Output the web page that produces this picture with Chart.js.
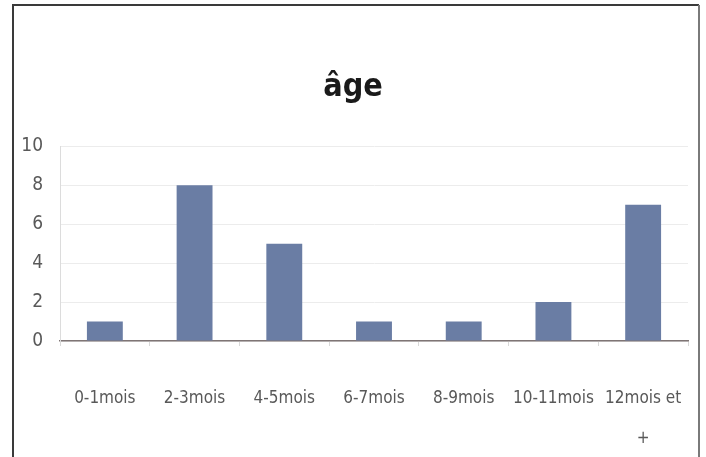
<!DOCTYPE html>
<html>
<head>
<meta charset="utf-8">
<script src="https://cdn.jsdelivr.net/npm/chart.js@4"></script>
<style>
  html, body { margin: 0; padding: 0; background: #fff; }
  #wrap { position: relative; width: 706px; height: 457px; }
</style>
</head>
<body>
<div id="wrap"><canvas id="myChart" width="706" height="457"></canvas></div>
<script>
var categories = ['0-1mois', '2-3mois', '4-5mois', '6-7mois', '8-9mois', '10-11mois', ['12mois et', '+']];
var counts = [1, 8, 5, 1, 1, 2, 7];
var yTicks = [0, 2, 4, 6, 8, 10];

var narrow = '"Liberation Sans Narrow", "DejaVu Sans Condensed", "Open Sans", sans-serif';

// frame around the chart (left, top, right edges only)
var frame = {
  id: 'frame',
  afterDraw: function (chart) {
    var c = chart.ctx;
    c.save();
    c.lineWidth = 2;
    c.strokeStyle = '#3a3a3a';
    c.beginPath();
    c.moveTo(13, 457);
    c.lineTo(13, 5);
    c.lineTo(699, 5);
    c.stroke();
    c.strokeStyle = '#7a7a7a';
    c.beginPath();
    c.moveTo(699, 5);
    c.lineTo(699, 457);
    c.stroke();
    c.restore();
  }
};

var ctx = document.getElementById('myChart').getContext('2d');
var chart = new Chart(ctx, {
  type: 'bar',
  data: {
    labels: categories,
    datasets: [{
      label: 'âge',
      data: counts,
      backgroundColor: 'rgb(106, 125, 164)',
      barPercentage: 0.4,
      categoryPercentage: 1
    }]
  },
  options: {
    responsive: false,
    animation: false,
    layout: { padding: { top: 0, right: 18, left: 18, bottom: 0 } },
    plugins: {
      legend: { display: false },
      tooltip: { enabled: false },
      title: {
        display: true,
        text: 'âge',
        color: '#1a1a1a',
        font: { family: narrow, size: 32, weight: 'bold', lineHeight: 1.2 },
        padding: { top: 68, bottom: 40 }
      }
    },
    scales: {
      x: {
        grid: { display: true, drawOnChartArea: false, drawTicks: true, tickLength: 5, tickColor: '#d9d9d9', offset: true },
        border: { color: '#7f7575', width: 1.5 },
        ticks: {
          color: '#595959',
          padding: 33,
          maxRotation: 0,
          autoSkip: false,
          font: { family: narrow, size: 17, lineHeight: '40px' }
        },
        afterFit: function (scale) {
          scale.height = 116;
          scale.paddingLeft = 0;
          scale.paddingRight = 0;
        }
      },
      y: {
        min: 0,
        max: 10,
        afterBuildTicks: function (scale) {
          scale.ticks = yTicks.map(function (v) { return { value: v }; });
        },
        grid: { color: '#ececec', drawTicks: false },
        border: { color: '#dcdcdc', width: 1 },
        ticks: {
          color: '#595959',
          padding: 17,
          font: { family: narrow, size: 19 }
        },
        afterFit: function (scale) { scale.width = 42; }
      }
    }
  },
  plugins: [frame]
});
</script>
</body>
</html>
